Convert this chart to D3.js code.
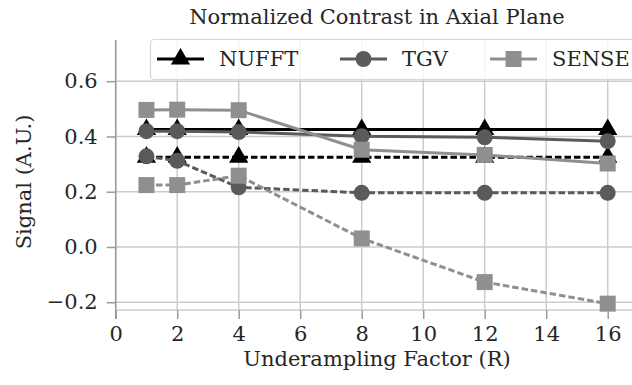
<!DOCTYPE html>
<html>
<head>
<meta charset="utf-8">
<script src="https://cdn.jsdelivr.net/npm/d3@7"></script>
<style>
  body { margin: 0; background: #fff; }
  svg { display: block; font-family: "DejaVu Serif", serif; }
</style>
</head>
<body>
<div id="chart"></div>
<script>
// Data
const factors = [1, 2, 4, 8, 12, 16];
const xTicks = [0, 2, 4, 6, 8, 10, 12, 14, 16];
const yTicks = [-0.2, 0.0, 0.2, 0.4, 0.6];

const nufftSolid = [0.425, 0.425, 0.425, 0.425, 0.425, 0.425];
const nufftDashed = [0.325, 0.325, 0.325, 0.325, 0.325, 0.325];
const tgvSolid = [0.419, 0.419, 0.416, 0.401, 0.397, 0.383];
const tgvDashed = [0.328, 0.312, 0.216, 0.196, 0.196, 0.196];
const senseSolid = [0.496, 0.497, 0.495, 0.352, 0.333, 0.302];
const senseDashed = [0.224, 0.224, 0.258, 0.031, -0.127, -0.205];

const seriesNames = ["NUFFT", "TGV", "SENSE"];

const width = 632;
const height = 385;
const fontSize = "21px";

const svg = d3.select("#chart").append("svg")
    .attr("width", width)
    .attr("height", height);

// Scales
const x = d3.scaleLinear().domain([0, 16.8]).range([115.7, 632.3]);
const y = d3.scaleLinear().domain([-0.228, 0.749]).range([310, 40]);

const plotLeft = x(0), plotRight = width, plotTop = 40, plotBottom = 310;

// Grid
const grid = svg.append("g");
grid.selectAll(".gx").data(xTicks).join("line")
    .attr("x1", d => x(d)).attr("x2", d => x(d))
    .attr("y1", plotTop).attr("y2", plotBottom)
    .attr("stroke", "#cccccc").attr("stroke-width", 1.5);
grid.selectAll(".gy").data(yTicks).join("line")
    .attr("x1", plotLeft).attr("x2", plotRight)
    .attr("y1", d => y(d)).attr("y2", d => y(d))
    .attr("stroke", "#cccccc").attr("stroke-width", 1.5);

// Axes
const fmtY = d => d3.format(".1f")(d).replace("-", "\u2212");
const yAxis = svg.append("g")
    .attr("transform", `translate(${plotLeft},0)`)
    .call(d3.axisLeft(y).tickValues(yTicks).tickFormat(fmtY).tickSize(9).tickPadding(9));
const xAxis = svg.append("g")
    .attr("transform", `translate(0,${plotBottom})`)
    .call(d3.axisBottom(x).tickValues(xTicks).tickFormat(d3.format("d")).tickSize(9).tickPadding(7));

yAxis.select(".domain").attr("d", `M0,${plotTop}V${plotBottom + 9}`)
    .attr("stroke", "#9a9a9a").attr("stroke-width", 1.5);
xAxis.select(".domain").attr("d", `M${plotLeft},0H${plotRight}`)
    .attr("stroke", "#cccccc").attr("stroke-width", 1.5);
[yAxis, xAxis].forEach(a => {
  a.selectAll(".tick line").attr("stroke", "#9a9a9a").attr("stroke-width", 1.5);
  a.selectAll("text")
      .attr("fill", "#262626")
      .attr("font-family", "DejaVu Serif")
      .attr("font-size", fontSize);
});

// Series
const styles = {
  NUFFT: { color: "#000000", marker: d3.symbolTriangle, size: 160 },
  TGV: { color: "#5a5a5a", marker: d3.symbolCircle, size: 200 },
  SENSE: { color: "#8f8f8f", marker: d3.symbolSquare, size: 256 }
};
const series = [
  { name: "NUFFT", values: nufftSolid, dash: null },
  { name: "NUFFT", values: nufftDashed, dash: "6.5,3" },
  { name: "TGV", values: tgvSolid, dash: null },
  { name: "TGV", values: tgvDashed, dash: "6.5,3" },
  { name: "SENSE", values: senseSolid, dash: null },
  { name: "SENSE", values: senseDashed, dash: "6.5,3" }
];

const line = d3.line().x((d, i) => x(factors[i])).y(d => y(d));

series.forEach(s => {
  const st = styles[s.name];
  const g = svg.append("g");
  g.append("path")
      .datum(s.values)
      .attr("fill", "none")
      .attr("stroke", st.color)
      .attr("stroke-width", 3)
      .attr("stroke-dasharray", s.dash)
      .attr("d", line);
  g.selectAll("path.m").data(s.values).join("path")
      .attr("class", "m")
      .attr("transform", (d, i) => `translate(${x(factors[i])},${y(d)})`)
      .attr("d", d3.symbol().type(st.marker).size(st.size))
      .attr("fill", st.color);
});

// Legend
const legend = svg.append("g");
legend.append("rect")
    .attr("x", 150.5).attr("y", 39.5)
    .attr("width", 500).attr("height", 40)
    .attr("rx", 4)
    .attr("fill", "#ffffff").attr("fill-opacity", 0.8)
    .attr("stroke", "#d6d6d6").attr("stroke-width", 1.2);
const legendX = [157, 340, 490];
seriesNames.forEach((name, i) => {
  const st = styles[name];
  const lx = legendX[i];
  const ly = 59;
  legend.append("line")
      .attr("x1", lx).attr("x2", lx + 47)
      .attr("y1", ly).attr("y2", ly)
      .attr("stroke", st.color).attr("stroke-width", 3);
  legend.append("path")
      .attr("transform", `translate(${lx + 23.5},${ly})`)
      .attr("d", d3.symbol().type(st.marker).size(st.size))
      .attr("fill", st.color);
  legend.append("text")
      .attr("x", lx + 62).attr("y", ly)
      .attr("dy", "0.35em")
      .attr("font-size", fontSize)
      .attr("fill", "#262626")
      .text(name);
});

// Titles
svg.append("text")
    .attr("x", 377).attr("y", 24)
    .attr("text-anchor", "middle")
    .attr("font-size", fontSize)
    .attr("fill", "#262626")
    .text("Normalized Contrast in Axial Plane");
svg.append("text")
    .attr("x", 377).attr("y", 366)
    .attr("text-anchor", "middle")
    .attr("font-size", fontSize)
    .attr("fill", "#262626")
    .text("Underampling Factor (R)");
svg.append("text")
    .attr("transform", `translate(31,182) rotate(-90)`)
    .attr("text-anchor", "middle")
    .attr("font-size", fontSize)
    .attr("fill", "#262626")
    .text("Signal (A.U.)");
</script>
</body>
</html>
